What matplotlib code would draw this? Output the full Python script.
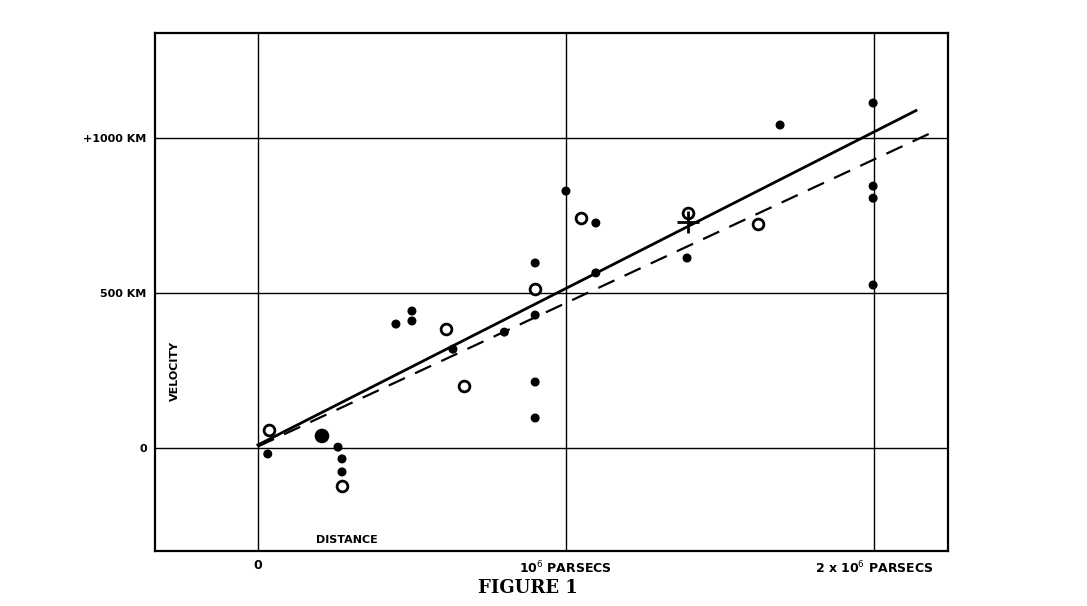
import matplotlib
matplotlib.use("Agg")
import matplotlib.pyplot as plt
import numpy as np

# distances in units of 1e6 parsecs, velocities in km/s
filled_x = [0.032, 0.208, 0.26, 0.273, 0.273, 0.448, 0.5, 0.5, 0.633, 0.8, 0.9, 0.9, 0.9, 0.9,
            1.0, 1.097, 1.097, 1.393, 1.695, 1.997, 1.997, 1.997, 1.997]
filled_y = [-19, 39, 3, -35, -77, 400, 442, 410, 319, 374, 597, 429, 213, 97,
            829, 726, 565, 613, 1042, 1113, 845, 806, 526]
filled_s = [30, 90, 30, 30, 30, 30, 30, 30, 30, 30, 30, 30, 30, 30,
            30, 30, 30, 30, 30, 30, 30, 30, 30]
open_x = [0.036, 0.273, 0.61, 0.669, 0.9, 1.049, 1.396, 1.623]
open_y = [58, -123, 384, 200, 513, 742, 758, 723]
cross_x = [1.396]
cross_y = [729]
solid_fit = (10, 505, 2.136)   # intercept, slope, end distance
dashed_fit = (5, 463, 2.205)

fig = plt.figure(figsize=(10.87, 6.06), dpi=100)
ax = fig.add_axes([0.1426, 0.0908, 0.7295, 0.8548])
ax.set_xlim(-0.334, 2.24)
ax.set_ylim(-332, 1339)
for v in [0, 1, 2]:
    ax.axvline(v, color='black', lw=1)
for v in [0, 500, 1000]:
    ax.axhline(v, color='black', lw=1)
for s in ax.spines.values():
    s.set_linewidth(1.6)

ax.scatter(filled_x, filled_y, s=filled_s, color='black', zorder=3)
ax.scatter(open_x, open_y, s=60, facecolor='white', edgecolor='black', linewidth=2, zorder=3)
ax.scatter(cross_x, cross_y, s=250, marker='+', color='black', linewidth=2, zorder=4)

b, m, e = solid_fit
xs = np.array([0, e])
ax.plot(xs, b + m * xs, color='black', lw=2)
b, m, e = dashed_fit
xs = np.array([0, e])
ax.plot(xs, b + m * xs, color='black', lw=1.6, dashes=(8, 5))

ax.set_xticks([0, 1, 2])
ax.set_xticklabels(['0', '10$^6$ PARSECS', '2 x 10$^6$ PARSECS'], fontsize=9, fontweight='bold')
ax.set_yticks([0, 500, 1000])
ax.set_yticklabels(['0', '500 KM', '+1000 KM'], fontsize=8, fontweight='bold')
ax.tick_params(length=0, pad=6)
ax.text(-0.27, 250, 'VELOCITY', rotation=90, fontsize=8, fontweight='bold', va='center', ha='center')
ax.text(0.19, -305, 'DISTANCE', fontsize=8, fontweight='bold')
fig.text(0.486, 0.022, 'FIGURE 1', fontsize=13, family='DejaVu Serif', fontweight='bold', ha='center')
fig.savefig('out.png', dpi=100)
